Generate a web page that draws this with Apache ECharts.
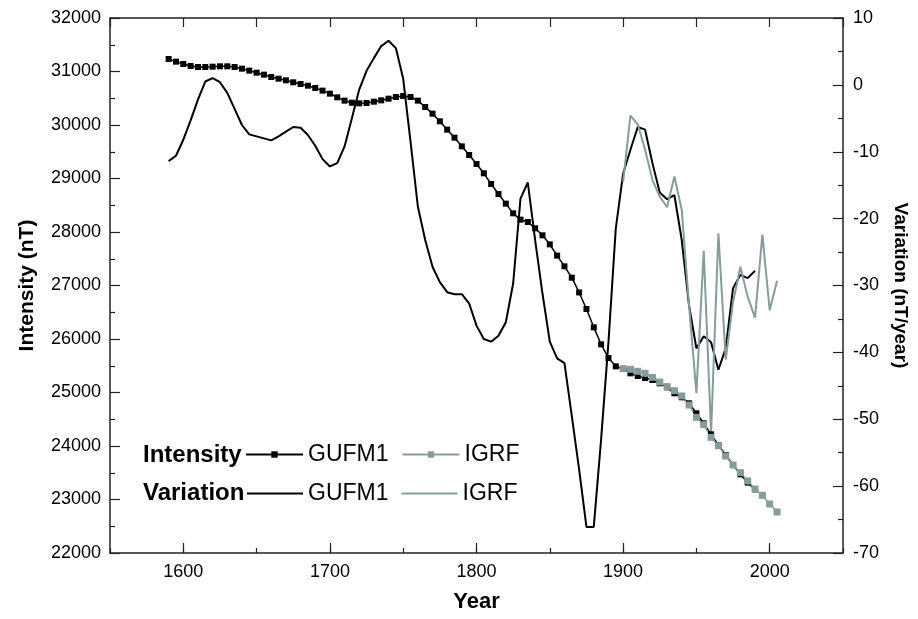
<!DOCTYPE html>
<html>
<head>
<meta charset="utf-8">
<script src="https://cdn.jsdelivr.net/npm/echarts@6/dist/echarts.min.js"></script>
<style>
  html, body { margin: 0; padding: 0; background: #fff; }
  #main { width: 918px; height: 619px; }
</style>
</head>
<body>
<div id="main"></div>
<script>
// data
var gufmYears = [1590, 1595, 1600, 1605, 1610, 1615, 1620, 1625, 1630, 1635, 1640, 1645, 1650, 1655, 1660, 1665, 1670, 1675, 1680, 1685,
  1690, 1695, 1700, 1705, 1710, 1715, 1720, 1725, 1730, 1735, 1740, 1745, 1750, 1755, 1760, 1765, 1770, 1775, 1780, 1785,
  1790, 1795, 1800, 1805, 1810, 1815, 1820, 1825, 1830, 1835, 1840, 1845, 1850, 1855, 1860, 1865, 1870, 1875, 1880, 1885,
  1890, 1895, 1900, 1905, 1910, 1915, 1920, 1925, 1930, 1935, 1940, 1945, 1950, 1955, 1960, 1965, 1970, 1975, 1980, 1985, 1990];
var gufmIntensity = [31234, 31184, 31140, 31103, 31084, 31084, 31090, 31097, 31097, 31084, 31053, 31016, 30978, 30941, 30897, 30866, 30835, 30798, 30766, 30735,
  30692, 30642, 30586, 30517, 30455, 30417, 30405, 30411, 30436, 30461, 30492, 30523, 30542, 30523, 30455, 30336, 30212, 30069, 29913, 29763,
  29601, 29439, 29271, 29097, 28897, 28710, 28530, 28349, 28231, 28187, 28069, 27938, 27769, 27558, 27358, 27146, 26870, 26561, 26218, 25900,
  25645, 25489, 25440, 25358, 25308, 25271, 25234, 25171, 25097, 24985, 24910, 24798, 24611, 24424, 24218, 24019, 23832, 23645, 23470, 23315, 23190];
var gufmVariation = [-11.4, -10.6, -8.2, -5.3, -2.2, 0.5, 1.0, 0.4, -1.2, -3.6, -6.0, -7.4, -7.7, -8.0, -8.3, -7.7, -7.0, -6.3, -6.4, -7.5,
  -9.1, -11.1, -12.2, -11.7, -9.2, -5.0, -0.7, 2.1, 4.0, 5.8, 6.6, 5.5, 0.9, -8.5, -18.2, -23.2, -27.2, -29.5, -31.0, -31.3,
  -31.3, -32.7, -36.0, -38.0, -38.4, -37.5, -35.5, -29.7, -17.0, -14.6, -23.2, -31.2, -38.4, -40.9, -41.6, -49.5, -57.5, -66.1, -66.1, -53.0,
  -38.5, -21.5, -13.3, -9.7, -6.3, -6.7, -11.7, -16.1, -17.1, -16.5, -23.2, -33.0, -39.4, -37.6, -38.5, -42.6, -39.4, -30.4, -28.4, -28.9, -27.8];

var igrfYears = [1900, 1905, 1910, 1915, 1920, 1925, 1930, 1935, 1940, 1945, 1950, 1955, 1960, 1965, 1970, 1975, 1980, 1985, 1990, 1995, 2000, 2005];
var igrfIntensity = [25445, 25433, 25396, 25358, 25283, 25196, 25109, 25034, 24935, 24766, 24536, 24399, 24162, 24006, 23813, 23645, 23502, 23346, 23196, 23078, 22916, 22766];
var igrfVariation = [-14.5, -4.6, -5.9, -9.7, -14.2, -16.7, -18.3, -13.7, -18.7, -33.0, -46.1, -24.8, -52.1, -22.2, -41.1, -32.5, -27.2, -31.7, -34.8, -22.4, -33.7, -29.3];

var yearLabels = [1600, 1700, 1800, 1900, 2000];

function pairs(xs, ys) {
  return xs.map(function (x, i) { return [x, ys[i]]; });
}

var FONT = '"Liberation Sans", Arial, sans-serif';
var AXIS_COLOR = '#222';
var GRAY = '#879b9b';

var myChart = echarts.init(document.getElementById('main'), null, { renderer: 'canvas' });

var option = {
  animation: false,
  backgroundColor: '#fff',
  grid: { left: 110, right: 70, top: 18, bottom: 66 },
  textStyle: { fontFamily: FONT },
  graphic: [
    { type: 'text', x: 143, y: 455, style: { text: 'Intensity', font: 'bold 24px ' + FONT, fill: '#000', align: 'left', verticalAlign: 'middle' } },
    { type: 'text', x: 143, y: 493, style: { text: 'Variation', font: 'bold 24px ' + FONT, fill: '#000', align: 'left', verticalAlign: 'middle' } }
  ],
  legend: [
    {
      data: ['Intensity GUFM1', 'Intensity IGRF'],
      left: 245, top: 443, padding: 0,
      itemWidth: 57, itemHeight: 8, itemGap: 13,
      selectedMode: false,
      textStyle: { fontSize: 23, fontFamily: FONT, color: '#000' },
      formatter: function (name) { return name.split(' ')[1]; }
    },
    {
      data: ['Variation GUFM1', 'Variation IGRF'],
      left: 247, top: 482, padding: 0,
      icon: 'rect', itemWidth: 56, itemHeight: 2, itemGap: 13,
      selectedMode: false,
      textStyle: { fontSize: 23, fontFamily: FONT, color: '#000' },
      formatter: function (name) { return name.split(' ')[1]; }
    }
  ],
  xAxis: [
    {
      type: 'value', position: 'bottom', min: 1550, max: 2050, interval: 50,
      axisLine: { show: true, onZero: false, lineStyle: { color: AXIS_COLOR, width: 1.5 } },
      axisTick: { show: true, inside: true, length: 10, customValues: yearLabels, lineStyle: { color: AXIS_COLOR, width: 1.2 } },
      axisLabel: {
        customValues: yearLabels, fontSize: 18, color: '#000', fontFamily: FONT, margin: 10,
        formatter: function (v) { return v % 100 === 0 ? String(v) : ''; }
      },
      splitLine: { show: false },
      name: 'Year', nameLocation: 'middle', nameGap: 38,
      nameTextStyle: { fontSize: 22, fontWeight: 'bold', color: '#000', fontFamily: FONT }
    },
    {
      type: 'value', position: 'bottom', min: 1550, max: 2050, interval: 50,
      axisLine: { show: false, onZero: false },
      axisTick: { show: true, inside: true, length: 5, lineStyle: { color: AXIS_COLOR, width: 1.2 } },
      axisLabel: { show: false },
      splitLine: { show: false }
    },
    {
      type: 'value', position: 'top', min: 1550, max: 2050, interval: 50,
      axisLine: { show: true, onZero: false, lineStyle: { color: AXIS_COLOR, width: 1.5 } },
      axisTick: { show: true, inside: true, length: 9, lineStyle: { color: AXIS_COLOR, width: 1.2 } },
      axisLabel: { show: false },
      splitLine: { show: false }
    }
  ],
  yAxis: [
    {
      type: 'value', position: 'left', min: 22000, max: 32000, interval: 1000,
      axisLine: { show: true, onZero: false, lineStyle: { color: AXIS_COLOR, width: 1.5 } },
      axisTick: { show: true, inside: true, length: 10, lineStyle: { color: AXIS_COLOR, width: 1.2 } },
      minorTick: { show: true, splitNumber: 2, length: 5, lineStyle: { color: AXIS_COLOR, width: 1.2 } },
      axisLabel: { fontSize: 18, color: '#000', fontFamily: FONT, margin: 9, formatter: function (v) { return String(v); } },
      splitLine: { show: false },
      name: 'Intensity (nT)', nameLocation: 'middle', nameGap: 72,
      nameTextStyle: { fontSize: 21, fontWeight: 'bold', color: '#000', fontFamily: FONT }
    },
    {
      type: 'value', position: 'right', min: -70, max: 10, interval: 10,
      axisLine: { show: true, onZero: false, lineStyle: { color: AXIS_COLOR, width: 1.5 } },
      axisTick: { show: true, inside: true, length: 10, lineStyle: { color: AXIS_COLOR, width: 1.2 } },
      minorTick: { show: true, splitNumber: 2, length: 5, lineStyle: { color: AXIS_COLOR, width: 1.2 } },
      axisLabel: { fontSize: 18, color: '#000', fontFamily: FONT, margin: 10, formatter: function (v) { return String(v); } },
      splitLine: { show: false },
      name: 'Variation (nT/year)', nameLocation: 'middle', nameGap: 48, nameRotate: -90,
      nameTextStyle: { fontSize: 19, fontWeight: 'bold', color: '#000', fontFamily: FONT }
    }
  ],
  series: [
    {
      name: 'Variation GUFM1', type: 'line', xAxisIndex: 0, yAxisIndex: 1,
      data: pairs(gufmYears, gufmVariation),
      symbol: 'none', color: '#000',
      lineStyle: { color: '#000', width: 2 }
    },
    {
      name: 'Variation IGRF', type: 'line', xAxisIndex: 0, yAxisIndex: 1,
      data: pairs(igrfYears, igrfVariation),
      symbol: 'none', color: GRAY,
      lineStyle: { color: GRAY, width: 2 }
    },
    {
      name: 'Intensity GUFM1', type: 'line', xAxisIndex: 0, yAxisIndex: 0,
      data: pairs(gufmYears, gufmIntensity),
      symbol: 'rect', symbolSize: 6, showAllSymbol: true, color: '#000',
      itemStyle: { color: '#000' },
      lineStyle: { color: '#000', width: 1.5 }
    },
    {
      name: 'Intensity IGRF', type: 'line', xAxisIndex: 0, yAxisIndex: 0,
      data: pairs(igrfYears, igrfIntensity),
      symbol: 'rect', symbolSize: 7, showAllSymbol: true, color: GRAY,
      itemStyle: { color: GRAY },
      lineStyle: { color: GRAY, width: 1.5 }
    }
  ]
};

myChart.setOption(option);
</script>
</body>
</html>
